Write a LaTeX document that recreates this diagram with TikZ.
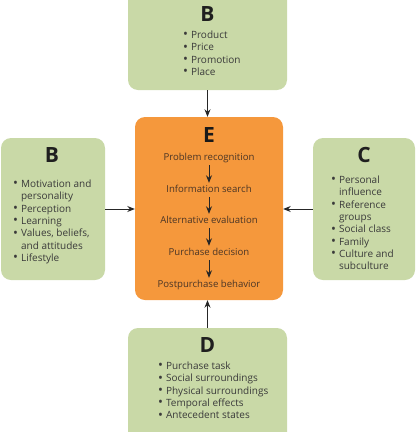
\documentclass[tikz,border=0pt]{standalone}
\usepackage{fontspec}
\setmainfont{Open Sans}
\usetikzlibrary{arrows.meta}
\definecolor{sage}{HTML}{C9D9A7}
\definecolor{tangerine}{HTML}{F5983C}
\definecolor{inkgray}{HTML}{3A3A3A}
\definecolor{inkbrown}{HTML}{4A3526}
\tikzset{
	panel/.style={rounded corners=10pt, fill=sage, inner sep=0pt},
	core/.style={rounded corners=10pt, fill=tangerine, inner sep=0pt},
	letter/.style={font=\fontsize{21}{21}\selectfont\bfseries, text=black!88, inner sep=0pt},
	items/.style={anchor=base west, inner sep=0pt, text=inkgray, font=\fontsize{10}{12.3}\selectfont},
	stage/.style={anchor=base, text=inkbrown, font=\fontsize{9.6}{12}\selectfont, text height=7pt, text depth=2pt, inner sep=2.5pt},
	arr/.style={-{Stealth[length=7.5pt,width=6pt]}, line width=0.8pt, draw=black!85},
}
\newcommand{\bul}{\raisebox{-0.4pt}{\fontsize{13}{12}\selectfont\textbullet}}
\newcommand{\blist}[1]{\begin{tabular}[t]{@{}l@{\hspace{3pt}}l@{}}#1\end{tabular}}

\begin{document}
\begin{tikzpicture}[x=1pt, y=-1pt]
		%%%%% START %%%%%
		\useasboundingbox (0, 0) rectangle (417, 432);
		\clip (0, 0) rectangle (417, 432);
		
		\node[panel, minimum width=159pt, minimum height=100pt] (mix) at (207.5, 40) {};
		\node[panel, minimum width=104pt, minimum height=142pt] (psych) at (53, 209) {};
		\node[panel, minimum width=102pt, minimum height=142pt] (social) at (364, 209) {};
		\node[panel, minimum width=159pt, minimum height=114pt] (situ) at (207.5, 385) {};
		\node[core, minimum width=148pt, minimum height=183pt] (proc) at (209, 208.5) {};
		
		\node[letter] (mixT) at (207.5, 14.5) {B};
		\node[items] (mixL) at (183, 38.5) {\blist{%
			\bul & Product\\
			\bul & Price\\
			\bul & Promotion\\
			\bul & Place}};
		
		\node[letter] (psychT) at (52, 155) {B};
		\node[items] (psychL) at (13, 187.5) {\blist{%
			\bul & Motivation and\\
			 & personality\\
			\bul & Perception\\
			\bul & Learning\\
			\bul & Values, beliefs,\\
			 & and attitudes\\
			\bul & Lifestyle}};
		
		\node[letter] (socialT) at (364, 155) {C};
		\node[items] (socialL) at (331, 183.5) {\blist{%
			\bul & Personal\\
			 & influence\\
			\bul & Reference\\
			 & groups\\
			\bul & Social class\\
			\bul & Family\\
			\bul & Culture and\\
			 & subculture}};
		
		\node[letter] (situT) at (207.5, 345) {D};
		\node[items] (situL) at (158, 369.5) {\blist{%
			\bul & Purchase task\\
			\bul & Social surroundings\\
			\bul & Physical surroundings\\
			\bul & Temporal effects\\
			\bul & Antecedent states}};
		
		\node[letter, text=black!90] (procT) at (209, 135) {E};
		\node[stage] (s1) at (209, 160.5) {Problem recognition};
		\node[stage] (s2) at (209, 192.5) {Information search};
		\node[stage] (s3) at (209, 223.5) {Alternative evaluation};
		\node[stage] (s4) at (209, 255.5) {Purchase decision};
		\node[stage] (s5) at (209, 287.5) {Postpurchase behavior};
		\foreach \a/\b in {s1/s2, s2/s3, s3/s4, s4/s5}
			\draw[arr] (\a) -- (\b);
		
		\draw[arr] (mix.south) -- (mix.south |- proc.north);
		\draw[arr] (psych.east) -- (psych.east -| proc.west);
		\draw[arr] (social.west) -- (social.west -| proc.east);
		\draw[arr] (situ.north) -- (situ.north |- proc.south);
		
		%%%%% END %%%%%
\end{tikzpicture}
\end{document}
